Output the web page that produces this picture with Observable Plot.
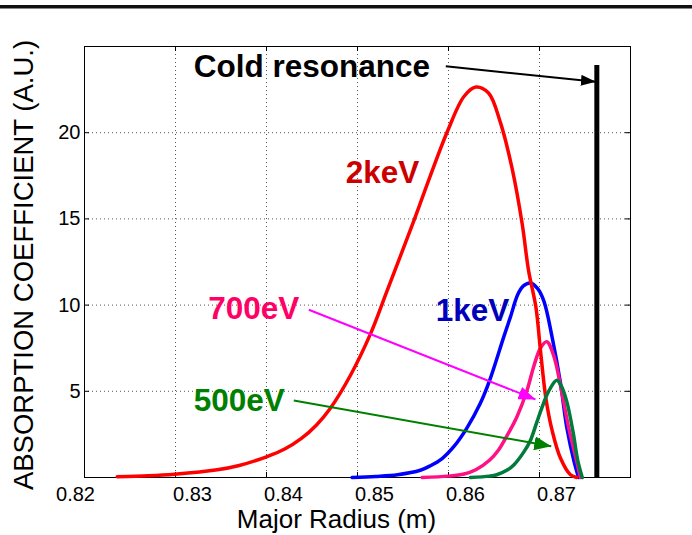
<!DOCTYPE html>
<html>
<head>
<meta charset="utf-8">
<script src="https://cdn.jsdelivr.net/npm/d3@7"></script>
<script src="https://cdn.jsdelivr.net/npm/@observablehq/plot@0.6"></script>
<style>
  html, body { margin: 0; padding: 0; background: #fff; }
  #chart { position: relative; width: 692px; height: 535px; }
</style>
</head>
<body>
<div id="chart"></div>
<script>
// ---- Data ----
const xTicks = [0.82, 0.83, 0.84, 0.85, 0.86, 0.87];
const yTicks = [5, 10, 15, 20];

const x2keV = [0.8236, 0.8270, 0.8299, 0.8346, 0.8370, 0.8400, 0.8420, 0.8438, 0.8455, 0.8470, 0.8492, 0.8514, 0.8533, 0.8562, 0.8580, 0.8599, 0.8617, 0.8630, 0.8644, 0.8657, 0.8670, 0.8681, 0.8688, 0.8696, 0.8701, 0.8707, 0.8714, 0.8723, 0.8734, 0.8741];
const y2keV = [0.05, 0.1, 0.19, 0.45, 0.7, 1.2, 1.65, 2.25, 3.05, 4.0, 5.9, 8.3, 10.9, 14.9, 17.5, 20.1, 22.1, 22.65, 22.3, 20.6, 17.9, 14.7, 12.0, 9.9, 7.4, 4.6, 2.7, 1.13, 0.16, 0];

const x1keV = [0.8494, 0.8520, 0.8544, 0.8569, 0.8580, 0.8593, 0.8606, 0.8620, 0.8635, 0.8645, 0.8661, 0.8668, 0.8676, 0.8682, 0.8690, 0.8698, 0.8705, 0.8714, 0.8723, 0.8730, 0.8738, 0.8743];
const y1keV = [0, 0.06, 0.16, 0.42, 0.68, 1.1, 1.8, 2.85, 4.3, 5.6, 8.2, 9.3, 10.6, 11.1, 11.28, 10.95, 10.2, 8.1, 5.5, 2.9, 0.93, 0];

const x700eV = [0.8571, 0.8600, 0.8617, 0.8630, 0.8645, 0.8655, 0.8664, 0.8675, 0.8686, 0.8694, 0.8701, 0.8708, 0.8716, 0.8725, 0.8732, 0.8740, 0.8745];
const y700eV = [0, 0.08, 0.2, 0.45, 1.0, 1.6, 2.4, 3.5, 5.0, 6.5, 7.5, 7.88, 7.0, 4.8, 2.9, 1.13, 0];

const x500eV = [0.8624, 0.8645, 0.8653, 0.8665, 0.8672, 0.8683, 0.8690, 0.8697, 0.8703, 0.8710, 0.8719, 0.8724, 0.8730, 0.8737, 0.8742, 0.8747];
const y500eV = [0, 0.08, 0.16, 0.45, 0.74, 1.5, 2.15, 3.2, 4.1, 5.0, 5.64, 5.3, 4.4, 2.6, 1.0, 0];

const resonanceX = 0.8763;
const resonanceTop = 23.9;

const labelTexts  = ["Cold resonance", "2keV", "1keV", "700eV", "500eV"];
const labelX      = [0.8320, 0.8487, 0.8586, 0.8336, 0.8320];
const labelY      = [23.8, 17.65, 9.68, 9.8, 4.43];
const labelColors = ["#000000", "#cc0000", "#0000bb", "#ff0066", "#008000"];

const arrowX1 = [0.8597, 0.84465, 0.8430];
const arrowY1 = [23.85, 9.73, 4.47];
const arrowX2 = [0.8762, 0.86956, 0.87129];
const arrowY2 = [22.95, 4.53, 1.81];
const arrowColors = ["#000000", "#ff00ff", "#008000"];
const arrowHeadLen = [15, 17, 17];
const arrowHeadWid = [11, 13, 14];

// ---- Build tables ----
const toRows = (xs, ys) => xs.map((x, i) => ({x, y: ys[i]}));
const s2keV = toRows(x2keV, y2keV);
const s1keV = toRows(x1keV, y1keV);
const s700 = toRows(x700eV, y700eV);
const s500 = toRows(x500eV, y500eV);
const labels = labelTexts.map((t, i) => ({text: t, x: labelX[i], y: labelY[i], color: labelColors[i]}));
const arrows = arrowX1.map((x1, i) => ({x1, y1: arrowY1[i], x2: arrowX2[i], y2: arrowY2[i], color: arrowColors[i]}));

const W = 692, H = 535;
const mL = 84, mR = 62, mT = 46, mB = 58;
const innerW = W - mL - mR, innerH = H - mT - mB;
const font = "'Liberation Sans', Arial, Helvetica, sans-serif";
const dotted = {stroke: "#555", strokeOpacity: 1, strokeWidth: 1, strokeDasharray: "1,3"};
const fmt = d => d.toFixed(2);

const plot = Plot.plot({
  width: W, height: H,
  marginLeft: mL, marginRight: mR, marginTop: mT, marginBottom: mB,
  style: {fontFamily: font, background: "#fff", color: "#000"},
  x: {domain: [0.82, 0.88], axis: null},
  y: {domain: [0, 25], axis: null},
  color: {type: "identity"},
  marks: [
    Plot.gridX(xTicks.slice(1), dotted),
    Plot.gridY(yTicks, dotted),
    Plot.ruleX(xTicks.slice(1), {stroke: "#000", insetTop: innerH - 5}),
    Plot.ruleX(xTicks.slice(1), {stroke: "#000", insetBottom: innerH - 5}),
    Plot.ruleY(yTicks, {stroke: "#000", insetRight: innerW - 5}),
    Plot.ruleY(yTicks, {stroke: "#000", insetLeft: innerW - 5}),
    Plot.frame({stroke: "#000", strokeWidth: 1}),
    Plot.text(yTicks, {y: d => d, text: d => String(d), frameAnchor: "left", textAnchor: "end", dx: -4, fontSize: 20, fill: "#000"}),
    Plot.text(xTicks.slice(1), {x: d => d, text: fmt, frameAnchor: "bottom", lineAnchor: "top", dy: 9, dx: 17, fontSize: 20, fill: "#000"}),
    Plot.text(xTicks.slice(0, 1), {x: d => d, text: fmt, frameAnchor: "bottom", lineAnchor: "top", dy: 9, dx: -9, fontSize: 20, fill: "#000"}),
    Plot.text(["ABSORPTION COEFFICIENT (A.U.)"], {frameAnchor: "left", rotate: -90, dx: -60, dy: 3, fontSize: 27.5, textAnchor: "middle", lineAnchor: "middle", fill: "#000"}),
    Plot.text(["Major Radius (m)"], {frameAnchor: "bottom", dx: -21, dy: 42, fontSize: 26, textAnchor: "middle", lineAnchor: "middle", fill: "#000"}),
    Plot.line(s1keV, {x: "x", y: "y", stroke: "#0000ff", strokeWidth: 3.5, curve: "catmull-rom"}),
    Plot.line(s700, {x: "x", y: "y", stroke: "#ff1084", strokeWidth: 3.5, curve: "catmull-rom"}),
    Plot.line(s2keV, {x: "x", y: "y", stroke: "#ff0000", strokeWidth: 3.5, curve: "catmull-rom"}),
    Plot.line(s500, {x: "x", y: "y", stroke: "#007a3d", strokeWidth: 3.5, curve: "catmull-rom"}),
    Plot.ruleX([{x: resonanceX, top: resonanceTop}], {x: "x", y1: 0, y2: "top", stroke: "#000", strokeWidth: 5}),
    Plot.link(arrows, {x1: "x1", y1: "y1", x2: "x2", y2: "y2", stroke: "color", strokeWidth: 2, markerEnd: "arrow"}),
    Plot.text(labels, {x: "x", y: "y", text: "text", fill: "color", fontSize: 31.5, fontWeight: "bold", textAnchor: "start", lineAnchor: "middle"})
  ]
});

// turn the arrow markers into filled triangular heads
const svg = d3.select(plot);
svg.selectAll("marker").each(function() {
  const m = d3.select(this);
  const c = m.attr("stroke");
  let k = arrowColors.findIndex(a => a.toLowerCase() === String(c).toLowerCase());
  if (k < 0) k = 0;
  m.attr("viewBox", "-10 -5 10 10")
    .attr("markerUnits", "userSpaceOnUse")
    .attr("markerWidth", arrowHeadLen[k])
    .attr("markerHeight", arrowHeadWid[k])
    .attr("preserveAspectRatio", "none")
    .attr("refX", 0).attr("refY", 0)
    .attr("fill", c)
    .attr("stroke", "none");
  m.selectAll("path").attr("d", "M-10,-5L0,0L-10,5Z");
});
// top separator rule of the page
svg.append("rect").attr("x", 0).attr("y", 5).attr("width", W).attr("height", 3.5).attr("fill", "#111");

document.getElementById("chart").appendChild(plot);
</script>
</body>
</html>
